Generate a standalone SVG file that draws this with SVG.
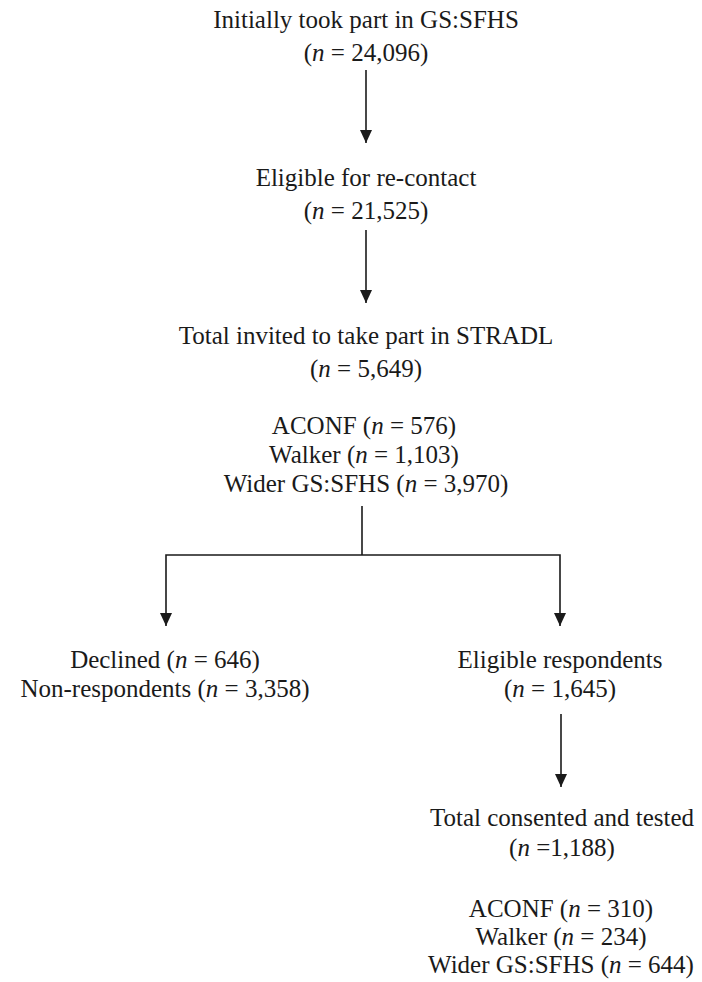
<svg xmlns="http://www.w3.org/2000/svg" width="702" height="982" viewBox="0 0 702 982">
<style>
text{font-family:"Liberation Serif","Times New Roman",Times,serif;font-size:25px;fill:#1a1a1a;text-anchor:middle}
.i{font-style:italic}
.ln{stroke:#1a1a1a;stroke-width:1.6;fill:none}
</style>
<defs>
<marker id="ah" markerWidth="13" markerHeight="12" refX="13" refY="6" orient="auto-start-reverse" markerUnits="userSpaceOnUse" viewBox="0 0 13 12">
<path d="M0,0 L13,6 L0,12 Z" fill="#1a1a1a"/>
</marker>
</defs>
<rect width="702" height="982" fill="#fff"/>
<g id="n1">
<text x="366" y="28">Initially took part in GS:SFHS</text>
<text x="366" y="61">(<tspan class="i">n</tspan> = 24,096)</text>
</g>
<g id="n2">
<text x="366" y="186">Eligible for re-contact</text>
<text x="366" y="219">(<tspan class="i">n</tspan> = 21,525)</text>
</g>
<g id="n3">
<text x="366" y="344">Total invited to take part in STRADL</text>
<text x="366" y="377">(<tspan class="i">n</tspan> = 5,649)</text>
<text x="364" y="434">ACONF (<tspan class="i">n</tspan> = 576)</text>
<text x="364" y="463">Walker (<tspan class="i">n</tspan> = 1,103)</text>
<text x="366" y="492">Wider GS:SFHS (<tspan class="i">n</tspan> = 3,970)</text>
</g>
<g id="n4">
<text x="165" y="668">Declined (<tspan class="i">n</tspan> = 646)</text>
<text x="165" y="697">Non-respondents (<tspan class="i">n</tspan> = 3,358)</text>
</g>
<g id="n5">
<text x="560" y="668">Eligible respondents</text>
<text x="560" y="697">(<tspan class="i">n</tspan> = 1,645)</text>
</g>
<g id="n6">
<text x="562" y="826">Total consented and tested</text>
<text x="562" y="856">(<tspan class="i">n</tspan> =1,188)</text>
<text x="561" y="917">ACONF (<tspan class="i">n</tspan> = 310)</text>
<text x="561" y="945">Walker (<tspan class="i">n</tspan> = 234)</text>
<text x="561" y="973">Wider GS:SFHS (<tspan class="i">n</tspan> = 644)</text>
</g>
<g id="connectors">
<line class="ln" x1="366" y1="70" x2="366" y2="143" marker-end="url(#ah)"/>
<line class="ln" x1="366" y1="230" x2="366" y2="303" marker-end="url(#ah)"/>
<path class="ln" d="M362,506 V555"/>
<path class="ln" d="M166,626 V555 H560 V626" marker-start="url(#ah)" marker-end="url(#ah)"/>
<line class="ln" x1="561" y1="714" x2="561" y2="787" marker-end="url(#ah)"/>
</g>
</svg>
